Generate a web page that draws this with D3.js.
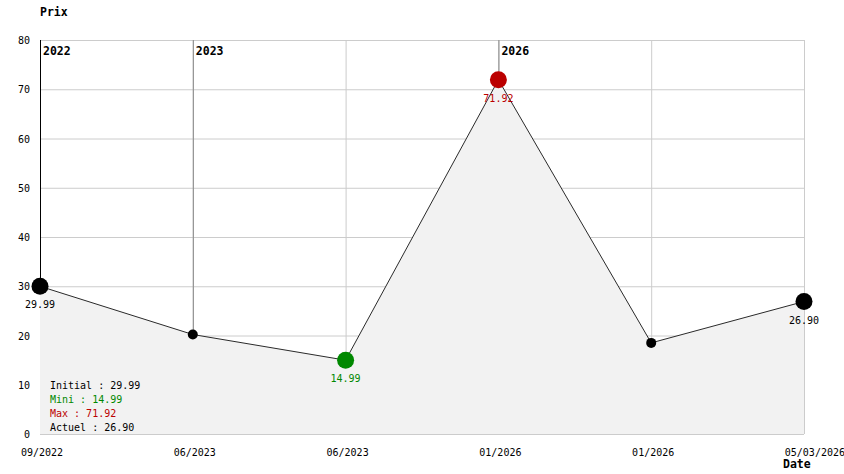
<!DOCTYPE html>
<html>
<head>
<meta charset="utf-8">
<script src="https://cdn.jsdelivr.net/npm/d3@7"></script>
<style>
  html, body { margin: 0; padding: 0; background: #fff; }
  svg { display: block; }
  text { font-family: "DejaVu Sans Mono", "Liberation Mono", monospace; font-size: 10px; }
  text.bold { font-size: 11.5px; font-weight: bold; }
</style>
</head>
<body>
<svg id="chart" width="844" height="474"></svg>
<script>
// ---- data ----
const dateLabels = ["09/2022", "06/2023", "06/2023", "01/2026", "01/2026", "05/03/2026"];
const prices = [29.99, 20.2, 14.99, 71.92, 18.5, 26.90];
const yTicks = [0, 10, 20, 30, 40, 50, 60, 70, 80];
const yearMarks = [{ idx: 0, label: "2022" }, { idx: 1, label: "2023" }, { idx: 3, label: "2026" }];
const legendLines = [
  { text: "Initial : 29.99", color: "#000000" },
  { text: "Mini : 14.99", color: "#008800" },
  { text: "Max : 71.92", color: "#bb0000" },
  { text: "Actuel : 26.90", color: "#000000" }
];

(function () {
const svg = d3.select("#chart");
const pLeft = 40, pRight = 804, pTop = 40, pBottom = 434;

const x = d3.scalePoint().domain(d3.range(prices.length)).range([pLeft, pRight]);
const y = d3.scaleLinear().domain([0, 80]).range([pBottom, pTop]);

const iMin = d3.minIndex(prices), iMax = d3.maxIndex(prices);
const iFirst = 0, iLast = prices.length - 1;

// grid
svg.append("g").selectAll("line").data(yTicks).join("line")
  .attr("x1", pLeft).attr("x2", pRight)
  .attr("y1", d => y(d) + 0.5).attr("y2", d => y(d) + 0.5)
  .attr("stroke", "#cccccc").attr("stroke-width", 1);
svg.append("g").selectAll("line").data(d3.range(1, prices.length)).join("line")
  .attr("x1", d => x(d) + 0.5).attr("x2", d => x(d) + 0.5)
  .attr("y1", pTop).attr("y2", pBottom)
  .attr("stroke", "#cccccc").attr("stroke-width", 1);

// year separators
svg.append("g").selectAll("line").data(yearMarks).join("line")
  .attr("x1", d => x(d.idx) + 0.5).attr("x2", d => x(d.idx) + 0.5)
  .attr("y1", pTop).attr("y2", pBottom)
  .attr("stroke", d => d.idx === 0 ? "#000000" : "#888888").attr("stroke-width", 1);

// area fill
const area = d3.area().x((d, i) => x(i)).y0(pBottom).y1(d => y(d));
svg.append("path").datum(prices).attr("d", area).attr("fill", "#f2f2f2");

// line
const line = d3.line().x((d, i) => x(i)).y(d => y(d));
svg.append("path").datum(prices).attr("d", line)
  .attr("fill", "none").attr("stroke", "#2a2a2a").attr("stroke-width", 1);

// year labels
svg.append("g").selectAll("text").data(yearMarks).join("text")
  .attr("class", "bold")
  .attr("x", d => x(d.idx) + 3).attr("y", 55)
  .attr("fill", "#000")
  .text(d => d.label);

// y axis labels
svg.append("g").selectAll("text").data(yTicks).join("text")
  .attr("x", 30).attr("y", d => y(d) + 4)
  .attr("text-anchor", "end").attr("fill", "#000")
  .text(d => d);

// x axis labels
svg.append("g").selectAll("text").data(dateLabels).join("text")
  .attr("x", (d, i) => i === iLast ? 845 : x(i) + 2)
  .attr("y", 456)
  .attr("text-anchor", (d, i) => i === iLast ? "end" : "middle")
  .attr("fill", "#000")
  .text(d => d);

// axis titles
svg.append("text").attr("class", "bold").attr("x", 40).attr("y", 16).text("Prix");
svg.append("text").attr("class", "bold").attr("x", 783).attr("y", 468).text("Date");

// points
function pointColor(i) {
  if (i === iMax) return "#bb0000";
  if (i === iMin) return "#008800";
  return "#000000";
}
const big = i => i === iMin || i === iMax || i === iFirst || i === iLast;
svg.append("g").selectAll("circle").data(prices).join("circle")
  .attr("cx", (d, i) => x(i)).attr("cy", d => y(d))
  .attr("r", (d, i) => big(i) ? 8.5 : 5)
  .attr("fill", (d, i) => pointColor(i));

// value labels
const labeled = [iFirst, iMin, iMax, iLast];
svg.append("g").selectAll("text").data(labeled).join("text")
  .attr("x", i => x(i)).attr("y", i => y(prices[i]) + 22)
  .attr("text-anchor", "middle")
  .attr("fill", i => pointColor(i))
  .text(i => prices[i].toFixed(2));

// legend
svg.append("g").selectAll("text").data(legendLines).join("text")
  .attr("x", 50).attr("y", (d, i) => 389 + i * 14)
  .attr("fill", d => d.color)
  .text(d => d.text);
})();
</script>
</body>
</html>
